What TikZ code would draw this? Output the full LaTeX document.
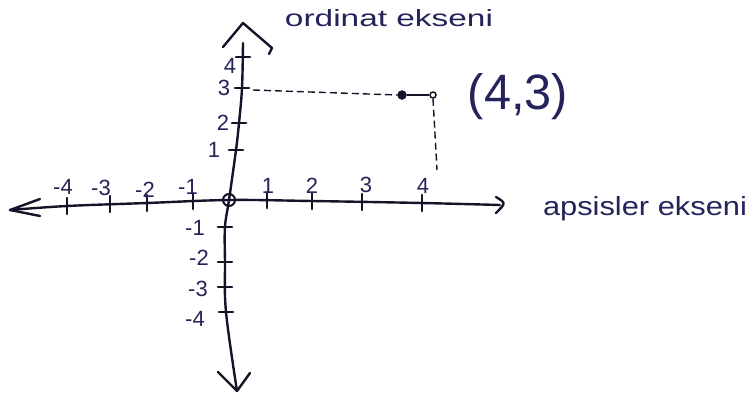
\documentclass[tikz,border=0pt]{standalone}
\usepackage{fontspec}
\setmainfont{Liberation Sans}
\definecolor{ink}{HTML}{141428}
\definecolor{blueink}{HTML}{24245A}
\begin{document}
\begin{tikzpicture}[x=1pt,y=-1pt,
  axisline/.style={draw=ink,line width=2.4pt,line cap=round,line join=round},
  tick/.style={draw=ink,line width=2.6pt,line cap=round},
  guide/.style={draw=ink,line width=1.4pt,dash pattern=on 7pt off 4pt},
  num/.style={text=blueink,inner sep=0pt,font=\fontsize{22}{22}\selectfont},
  caption/.style={text=blueink,inner sep=0pt}]
\useasboundingbox (0,0) rectangle (754,400);
\fill[white] (0,0) rectangle (754,400);

% axis end points
\coordinate (xl) at (10,210);
\coordinate (xr) at (500,205);
\coordinate (yt) at (243,43);
\coordinate (yb) at (237,391);
\coordinate (O) at (229,200);

% x axis
\draw[axisline] plot[smooth,tension=0.6] coordinates
  {(10,210) (67,206) (147,203) (229,200) (312,201) (422,203) (500,205)};
\draw[axisline] (40,199) -- (xl) -- (40,216);
\draw[axisline] (496,197) .. controls (506,203) .. (496,213);

% y axis
\draw[axisline] plot[smooth,tension=0.6] coordinates
  {(243,43) (242,88) (239,123) (236,150) (229,200) (225,227) (225,262) (226,312) (237,391)};
\coordinate (ya) at (243,23);
\draw[axisline] (223,47) -- (ya) -- (272,48) -- (269,54);
\draw[axisline] (218,372) -- (yb) -- (250,373);

% origin
\draw[ink,line width=2pt] (O) circle (6);

% x ticks
\foreach \x/\y in {67/206,110/204,147/203,193/201,267/200,312/201,362/202,422/203}
  \draw[tick] (\x,\y-8) -- (\x,\y+8);
% y ticks
\foreach \x/\y in {243/57,242/88,239/123,236/150,225/227,225/262,225/287,226/312}
  \draw[tick] (\x-7,\y) -- (\x+7,\y);

% x labels
\node[num] (xm4) at (63,187) {-4};
\node[num] (xm3) at (101,188) {-3};
\node[num] (xm2) at (145,190) {-2};
\node[num] (xm1) at (188,187) {-1};
\node[num] (x1) at (268,186) {1};
\node[num] (x2) at (312,186) {2};
\node[num] (x3) at (366,185) {3};
\node[num] (x4) at (423,186) {4};
% y labels
\node[num] (y4) at (230,66) {4};
\node[num] (y3) at (224,88) {3};
\node[num] (y2) at (223,123) {2};
\node[num] (y1) at (214,150) {1};
\node[num] (ym1) at (195,228) {-1};
\node[num] (ym2) at (199,258) {-2};
\node[num] (ym3) at (198,289) {-3};
\node[num] (ym4) at (195,319) {-4};

% point (4,3)
\node[draw=ink,fill=ink,circle,minimum size=9pt,inner sep=0pt] (P) at (402,95) {};
\node[draw=ink,line width=1.5pt,circle,minimum size=6pt,inner sep=0pt] (Q) at (433,95) {};
\draw[ink,line width=2pt] (P) -- (Q);
\draw[guide] (253,90) -- (P.west);
\coordinate (Qd) at (437,170);
\draw[guide] (Q.south) -- (Qd);

% texts
\node[caption] (pt) at (518,97) {\resizebox{100pt}{36pt}{(4,3)}};
\node[caption] (ord) at (389,18) {\resizebox{208pt}{17pt}{ordinat ekseni}};
\node[caption] (aps) at (645,209) {\resizebox{204pt}{19pt}{apsisler ekseni}};
\end{tikzpicture}
\end{document}
